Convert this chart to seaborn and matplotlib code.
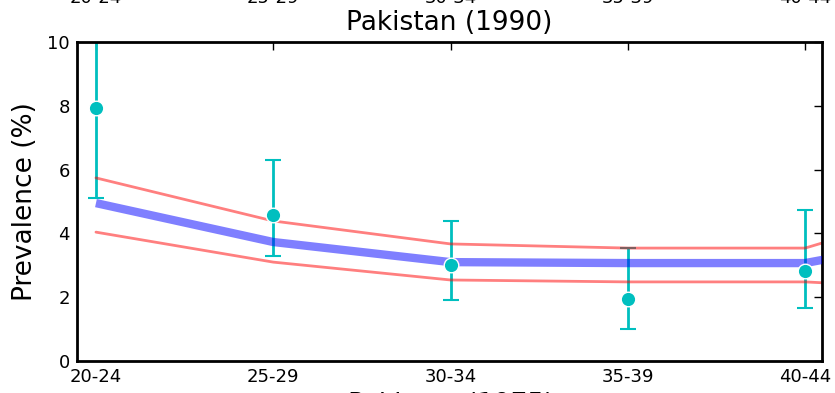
import numpy as np
import pandas as pd
import seaborn as sns
import matplotlib
matplotlib.use("Agg")
import matplotlib.pyplot as plt

# age groups (the last one lies just past the right edge of the axes)
age_groups = ["20-24", "25-29", "30-34", "35-39", "40-44", "45-49"]

# survey points with 95% intervals
obs_groups = ["20-24", "25-29", "30-34", "35-39", "40-44"]
obs_prev = [7.93, 4.58, 3.01, 1.94, 2.82]
obs_low = [5.11, 3.29, 1.91, 1.00, 1.66]
obs_high = [10.6, 6.30, 4.39, 3.54, 4.73]

# model estimate with uncertainty band
model_mean = [4.95, 3.73, 3.10, 3.07, 3.07, 4.10]
model_low = [4.04, 3.10, 2.54, 2.48, 2.48, 2.20]
model_high = [5.74, 4.39, 3.67, 3.54, 3.54, 5.20]

title = "Pakistan (1990)"
next_title = "Pakistan (1975)"

sns.set_style("white", {"text.color": "black", "axes.labelcolor": "black"})
plt.rcParams["font.family"] = ["DejaVu Sans"]

xpos = {g: i for i, g in enumerate(age_groups)}
model = pd.DataFrame({"x": range(len(age_groups)), "mean": model_mean,
                      "low": model_low, "high": model_high})
obs = pd.DataFrame({"x": [xpos[g] for g in obs_groups], "prev": obs_prev,
                    "low": obs_low, "high": obs_high})

fig = plt.figure(figsize=(8.35, 3.93), dpi=100)
ax = fig.add_axes([0.0922, 0.0814, 0.8922, 0.8117])

# error bars of the data
ax.errorbar(obs["x"], obs["prev"],
            yerr=[obs["prev"] - obs["low"], obs["high"] - obs["prev"]],
            fmt="none", ecolor="#00bfbf", elinewidth=2, capsize=6, capthick=1.5,
            zorder=1)

# model lines
sns.lineplot(data=model, x="x", y="high", color="red", alpha=0.5, lw=2, ax=ax, zorder=2)
sns.lineplot(data=model, x="x", y="low", color="red", alpha=0.5, lw=2, ax=ax, zorder=2)
sns.lineplot(data=model, x="x", y="mean", color="blue", alpha=0.5, lw=6,
             solid_capstyle="butt", ax=ax, zorder=3)

# data points on top
sns.scatterplot(data=obs, x="x", y="prev", color="#00bfbf", s=110,
                edgecolor="white", linewidth=1, ax=ax, zorder=4)

ax.set_xticks(range(len(age_groups)))
ax.set_xticklabels(age_groups)
ax.set_yticks([0, 2, 4, 6, 8, 10])
ax.set_xlim(-0.107, 4.095)
ax.set_ylim(0, 10)
ax.tick_params(direction="in", top=True, right=True, length=6, width=1,
               labelsize=13, pad=5, colors="black")
for s in ax.spines.values():
    s.set_linewidth(2)
    s.set_color("black")

ax.set_xlabel("")
ax.set_ylabel("Prevalence (%)", fontsize=19, color="black")
ax.yaxis.set_label_coords(-0.053, 0.5)
ax.set_title(title, fontsize=19, pad=9, color="black")

# bits of the neighbouring panels that show at the edges
for g in age_groups[:5]:
    xf = (ax.transData.transform((xpos[g], 0))[0]) / fig.bbox.width
    fig.text(xf, 1 - 3 / 393, g, ha="center", va="baseline", fontsize=13)
fig.text(0.5405, -19 / 393, next_title, ha="center", va="baseline", fontsize=19)

fig.savefig("out.png", dpi=100)
